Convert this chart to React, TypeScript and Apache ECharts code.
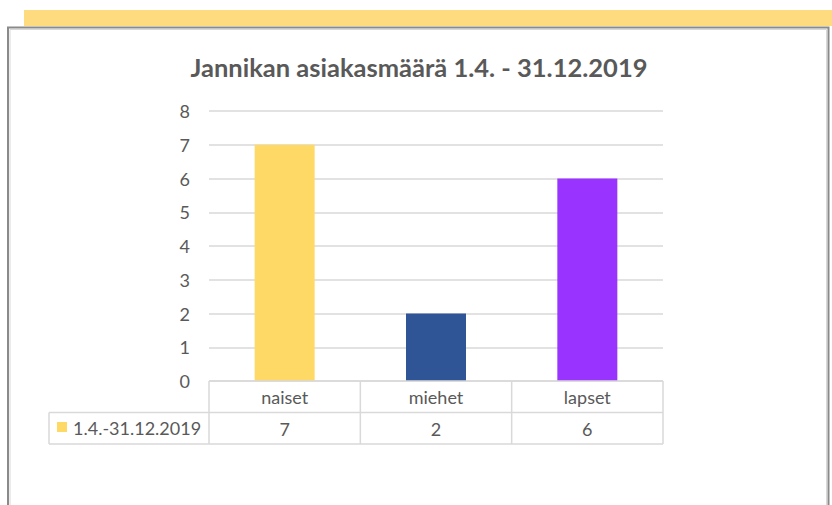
import React, { useEffect, useRef } from "react";
import * as echarts from "echarts";

const title = "Jannikan asiakasmäärä 1.4. - 31.12.2019";
const seriesName = "1.4.-31.12.2019";
const categories = ["naiset", "miehet", "lapset"];
const values = [7, 2, 6];
const barColors = ["#FFD966", "#2F5597", "#9933FF"];
const yTicks = [0, 1, 2, 3, 4, 5, 6, 7, 8];

const W = 832;
const H = 505;
const GL = 209;
const GR = 663;
const GT = 111;
const GB = 381;
const ROW = 31.5;
const TEXT = "#595959";
const LINE = "#d9d9d9";
const FONT = "Lato, 'Open Sans', sans-serif";

export default function App() {
  const ref = useRef<HTMLDivElement>(null);
  useEffect(() => {
    document.body.style.margin = "0";
    const chart = echarts.init(ref.current!, null, { renderer: "svg" });
    const colW = (GR - GL) / categories.length;
    const tableLines: any[] = [];
    const ln = (x1: number, y1: number, x2: number, y2: number) =>
      tableLines.push({
        type: "line",
        shape: { x1, y1, x2, y2 },
        style: { stroke: LINE, lineWidth: 1.5 },
        z: 5,
      });
    ln(GL, GB, GR, GB);
    ln(49, GB + ROW, GR, GB + ROW);
    ln(49, GB + 2 * ROW, GR, GB + 2 * ROW);
    ln(49, GB + ROW, 49, GB + 2 * ROW);
    for (let i = 0; i <= categories.length; i++) {
      ln(GL + i * colW, GB, GL + i * colW, GB + 2 * ROW);
    }
    chart.setOption({
      animation: false,
      backgroundColor: "#ffffff",
      title: {
        text: title,
        left: 414,
        top: 49,
        textAlign: "center",
        textStyle: { color: TEXT, fontSize: 25.5, fontWeight: "bold", fontFamily: FONT },
      },
      grid: { left: GL, right: W - GR, top: GT, bottom: H - GB, containLabel: false },
      xAxis: [
        {
          type: "category",
          data: categories,
          axisLine: { show: false },
          axisTick: { show: false },
          axisLabel: { color: TEXT, fontSize: 18, fontFamily: FONT, margin: 7 },
        },
        {
          type: "category",
          data: values.map(String),
          position: "bottom",
          offset: ROW,
          axisLine: { show: false },
          axisTick: { show: false },
          axisLabel: { color: TEXT, fontSize: 18, fontFamily: FONT, margin: 7 },
        },
      ],
      yAxis: {
        type: "value",
        min: yTicks[0],
        max: yTicks[yTicks.length - 1],
        interval: 1,
        axisLine: { show: false },
        axisTick: { show: false },
        axisLabel: { color: TEXT, fontSize: 18, fontFamily: FONT, margin: 19 },
        splitLine: { lineStyle: { color: LINE, width: 1.5 } },
      },
      series: [
        {
          type: "bar",
          name: seriesName,
          xAxisIndex: 0,
          barWidth: 60,
          data: values.map((v, i) => ({ value: v, itemStyle: { color: barColors[i] } })),
        },
      ],
      graphic: [
        {
          type: "rect",
          shape: { x: 24, y: 10, width: W - 24, height: 16 },
          style: { fill: "#FFDB80" },
        },
        {
          type: "rect",
          shape: { x: 8, y: 27.5, width: 820.5, height: 490 },
          style: { fill: "none", stroke: "#8a8a8a", lineWidth: 2 },
        },
        {
          type: "rect",
          shape: { x: 10, y: 29.5, width: 816.5, height: 490 },
          style: { fill: "none", stroke: "#d8d8d8", lineWidth: 1 },
        },
        ...tableLines,
        {
          type: "rect",
          shape: { x: 57, y: 422, width: 10, height: 10 },
          style: { fill: barColors[0] },
          z: 5,
        },
        {
          type: "text",
          x: 73,
          y: GB + 1.5 * ROW,
          style: {
            text: seriesName,
            fill: TEXT,
            fontSize: 18,
            fontFamily: FONT,
            verticalAlign: "middle",
          },
          z: 5,
        },
      ],
    });
    return () => chart.dispose();
  }, []);
  return <div ref={ref} style={{ width: W, height: H }} />;
}
